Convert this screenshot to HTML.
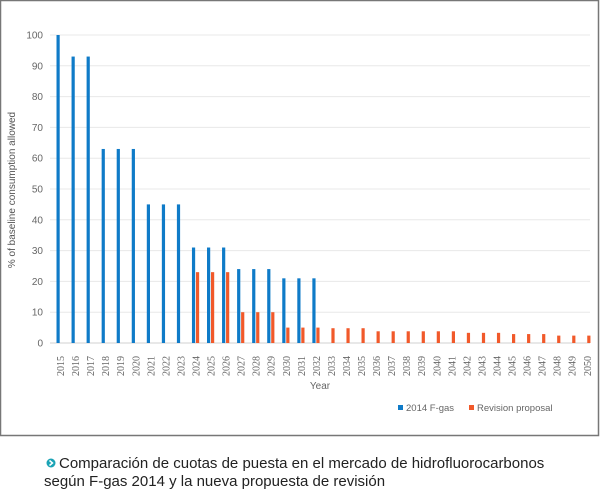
<!DOCTYPE html>
<html><head><meta charset="utf-8"><style>
body{margin:0;background:#fff;width:600px;height:497px;overflow:hidden;font-family:"Liberation Sans",sans-serif}
</style></head><body>
<svg width="600" height="497" xmlns="http://www.w3.org/2000/svg" style="position:absolute;left:0;top:0">
<rect x="0.5" y="0.5" width="598" height="435" fill="#fff" stroke="#777" stroke-width="1.5"/>
<g id="grid" stroke="#e3e3e3" stroke-width="1"></g>
<g id="bars"></g>
<g id="lab" font-size="10" fill="#666"></g>
<text x="15" y="190" transform="rotate(-90 15 190)" font-size="10" fill="#555" text-anchor="middle">% of baseline consumption allowed</text>
<text x="320" y="389" font-size="10" fill="#666" text-anchor="middle">Year</text>
<rect x="398" y="405" width="5" height="5" fill="#0f7bc8"/>
<text x="406" y="411" font-size="9.5" fill="#666">2014 F-gas</text>
<rect x="469" y="405" width="5" height="5" fill="#f1592a"/>
<text x="477" y="411" font-size="9.5" fill="#666">Revision proposal</text>
<circle cx="51" cy="463" r="4.5" fill="#1aa3b5"/>
<path d="M49.5 460.5 L52.5 463 L49.5 465.5" stroke="#fff" stroke-width="1.5" fill="none"/>
<text x="59" y="468" font-size="15" fill="#222">Comparación de cuotas de puesta en el mercado de hidrofluorocarbonos</text>
<text x="44" y="486" font-size="15" fill="#222">según F-gas 2014 y la nueva propuesta de revisión</text>
</svg>
<script>
var ns="http://www.w3.org/2000/svg";
function el(p,t,a,txt){var e=document.createElementNS(ns,t);for(var k in a)e.setAttribute(k,a[k]);if(txt!=null)e.textContent=txt;document.getElementById(p).appendChild(e);}
function Y(v){return 343-v*3.08;}
for(var v=0;v<=100;v+=10){el("grid","line",{x1:50,x2:590,y1:Y(v),y2:Y(v),stroke:v==0?"#d0d0d0":"#e8e8e8"});el("lab","text",{x:43,y:Y(v)+3.5,"text-anchor":"end"},v);}
var blue=[100,93,93,63,63,63,45,45,45,31,31,31,24,24,24,21,21,21];
var org={2024:23,2025:23,2026:23,2027:10,2028:10,2029:10,2030:5,2031:5,2032:5,2033:4.8,2034:4.8,2035:4.8,2036:3.8,2037:3.8,2038:3.8,2039:3.8,2040:3.8,2041:3.8,2042:3.3,2043:3.3,2044:3.3,2045:2.9,2046:2.9,2047:2.9,2048:2.4,2049:2.4,2050:2.4};
for(var i=0;i<36;i++){var yr=2015+i,c=61+15.05*i;
if(i<blue.length)el("bars","rect",{x:c-4.5,y:Y(blue[i]),width:3.2,height:blue[i]*3.08,fill:"#0f7bc8"});
if(org[yr])el("bars","rect",{x:c-0.5,y:Y(org[yr]),width:3.2,height:org[yr]*3.08,fill:"#f1592a"});
el("lab","text",{x:c+3,y:376,transform:"rotate(-90 "+(c+3)+" 376)",style:"font-family:'Liberation Serif',serif"},yr);}
</script>
</body></html>
